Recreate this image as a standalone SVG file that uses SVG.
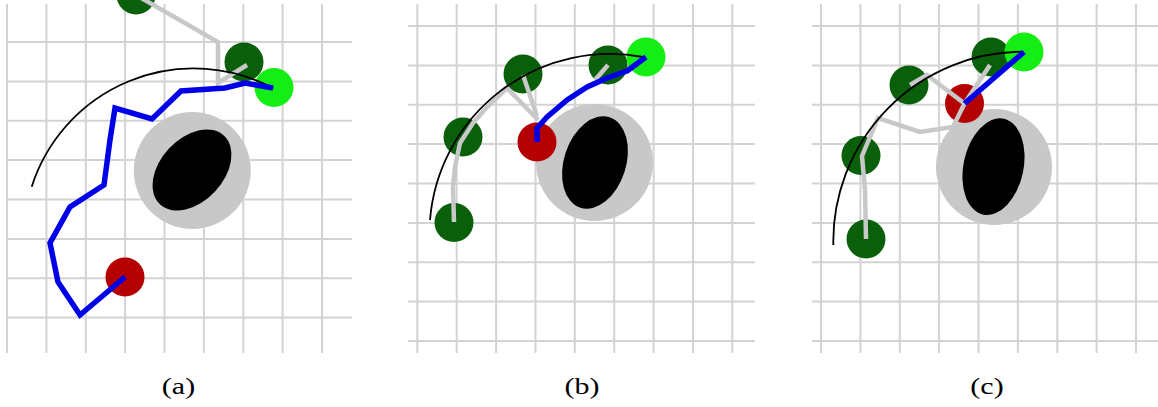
<svg xmlns="http://www.w3.org/2000/svg" width="1158" height="407" viewBox="0 0 1158 407">
<style>
.grid{fill:none;stroke:#d3d3d3;stroke-width:2}
.obs{fill:#c8c8c8}
.core{fill:#000}
.dg{fill:#0a600a}
.lg{fill:#14ee14}
.rd{fill:#b40000}
.tree{fill:none;stroke:#c8c8c8;stroke-width:4.5;stroke-linejoin:miter}
.arc{fill:none;stroke:#000;stroke-width:1.8}
.path{fill:none;stroke:#0000e8;stroke-width:5.5;stroke-linejoin:miter;stroke-linecap:butt}
.lbl{font-family:"Liberation Serif","Times New Roman",serif;font-size:24px;fill:#000;text-anchor:middle}
</style>
<rect width="1158" height="407" fill="#fff"/>

<g id="panel-a">
  <path class="grid" d="M7 4V353M46.4 4V353M85.8 4V353M125.1 4V353M164.5 4V353M203.9 4V353M243.3 4V353M282.6 4V353M322 4V353M7 42H352M7 81.4H352M7 120.8H352M7 160.1H352M7 199.5H352M7 238.9H352M7 278.3H352M7 317.6H352"/>
  <g id="a-obstacle">
    <circle class="obs" cx="192.3" cy="170.5" r="58.5"/>
    <ellipse class="core" cx="192" cy="170" rx="47" ry="31.5" transform="rotate(-47 192 170)"/>
  </g>
  <g id="a-n1"><circle class="dg" cx="136" cy="-5" r="19.5"/></g>
  <g id="a-n2"><circle class="dg" cx="244" cy="62" r="19.5"/></g>
  <g id="a-goal"><circle class="lg" cx="274" cy="87.5" r="19.5"/></g>
  <g id="a-start"><circle class="rd" cx="125" cy="277" r="19.5"/></g>
  <g id="a-connectors">
    <path class="tree" d="M136 -5L218 42L218 83L247 65"/>
    <path class="arc" d="M31.7 186.7A170 170 0 0 1 273.3 88.3"/>
    <path class="path" d="M125 277L80 315L58 282L50 243L70 207L104 185L110 140L115 108L152 119L181 91L225 88L245 83L273 88"/>
  </g>
  <text class="lbl" transform="translate(178.5 394) scale(1.25 1)">(a)</text>
</g>

<g id="panel-b">
  <path class="grid" d="M417.3 4V353M456.7 4V353M496.1 4V353M535.5 4V353M574.8 4V353M614.2 4V353M653.6 4V353M693 4V353M732.3 4V353M408 26H755M408 65.4H755M408 104.8H755M408 144.1H755M408 183.5H755M408 222.9H755M408 262.3H755M408 301.6H755M408 341H755"/>
  <g id="b-obstacle">
    <circle class="obs" cx="594.5" cy="162.5" r="58.5"/>
    <ellipse class="core" cx="595" cy="162.5" rx="47.5" ry="31" transform="rotate(-72 595 162.5)"/>
  </g>
  <g id="b-n1"><circle class="dg" cx="523" cy="74" r="19.5"/></g>
  <g id="b-n2"><circle class="dg" cx="608" cy="65" r="19.5"/></g>
  <g id="b-goal"><circle class="lg" cx="646" cy="57" r="19.5"/></g>
  <g id="b-n3"><circle class="dg" cx="463" cy="137" r="19.5"/></g>
  <g id="b-start"><circle class="rd" cx="537" cy="142" r="19.5"/></g>
  <g id="b-n4"><circle class="dg" cx="454" cy="222.5" r="19.5"/></g>
  <g id="b-connectors">
    <path class="tree" d="M454 222L453 187L455 167L460 143L473 123L487 107L507 88L538 120M523 75L537 116M608 65L595 80"/>
    <path class="arc" d="M430 220A180.6 180.6 0 0 1 643 57"/>
    <path class="path" style="stroke-linejoin:round" d="M537 142L537 128L547 117L567 100L587 87L607 78L627 71L646 57"/>
  </g>
  <text class="lbl" transform="translate(582 394) scale(1.25 1)">(b)</text>
</g>

<g id="panel-c">
  <path class="grid" d="M821 4V353M860.4 4V353M899.8 4V353M939.1 4V353M978.5 4V353M1017.9 4V353M1057.3 4V353M1096.6 4V353M1136 4V353M812 26H1158M812 65.4H1158M812 104.8H1158M812 144.1H1158M812 183.5H1158M812 222.9H1158M812 262.3H1158M812 301.6H1158M812 341H1158"/>
  <g id="c-obstacle">
    <circle class="obs" cx="994" cy="167" r="58"/>
    <ellipse class="core" cx="993.5" cy="166.7" rx="49" ry="30" transform="rotate(-78 993.5 166.7)"/>
  </g>
  <g id="c-n1"><circle class="dg" cx="909" cy="85" r="19.5"/></g>
  <g id="c-n2"><circle class="dg" cx="991" cy="57" r="19.5"/></g>
  <g id="c-goal"><circle class="lg" cx="1024" cy="52" r="19.5"/></g>
  <g id="c-start"><circle class="rd" cx="964.5" cy="103.5" r="19.5"/></g>
  <g id="c-n3"><circle class="dg" cx="861" cy="155.5" r="19.5"/></g>
  <g id="c-n4"><circle class="dg" cx="866" cy="239" r="19.5"/></g>
  <g id="c-connectors">
    <path class="tree" d="M866 239L865 190L862 156L878 118L920 132L953 127L964.5 103.5M910 85L927 75L964.5 103.5L990 65"/>
    <path class="arc" d="M833.3 245A190 190 0 0 1 1023.3 51.7"/>
    <path class="path" d="M964.5 103.5L1024 52"/>
  </g>
  <text class="lbl" transform="translate(987 394) scale(1.25 1)">(c)</text>
</g>
</svg>
